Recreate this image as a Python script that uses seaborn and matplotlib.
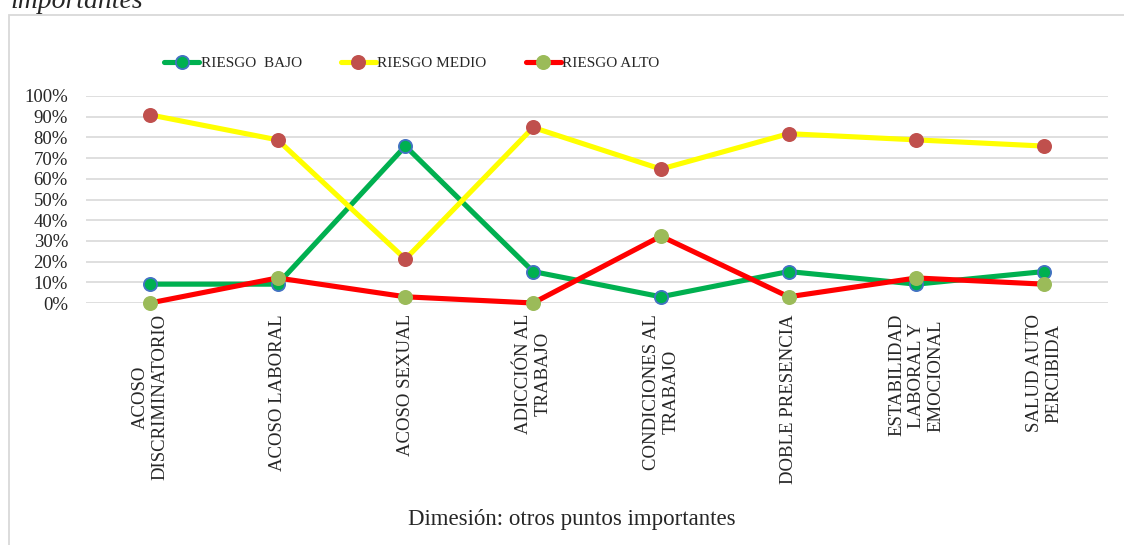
import pandas as pd
import matplotlib
matplotlib.use('Agg')
import matplotlib.pyplot as plt
import matplotlib.patches as mpatches
from matplotlib.ticker import PercentFormatter
import seaborn as sns

# Datos (porcentajes)
categorias = ['ACOSO\nDISCRIMINATORIO', 'ACOSO LABORAL', 'ACOSO SEXUAL',
              'ADICCIÓN AL\nTRABAJO', 'CONDICIONES AL\nTRABAJO', 'DOBLE PRESENCIA',
              'ESTABILIDAD\nLABORAL Y\nEMOCIONAL', 'SALUD AUTO\nPERCIBIDA']
riesgo_bajo = [9.1, 9.1, 75.8, 15.2, 3.0, 15.2, 9.1, 15.2]
riesgo_medio = [90.9, 78.8, 21.2, 84.8, 64.7, 81.8, 78.8, 75.8]
riesgo_alto = [0.0, 12.1, 3.0, 0.0, 32.3, 3.0, 12.1, 9.1]
yticks = [0, 10, 20, 30, 40, 50, 60, 70, 80, 90, 100]

sns.set_style('white')
plt.rcParams['font.family'] = ['Liberation Serif', 'DejaVu Serif']

dados = pd.DataFrame({'dimension': categorias,
                      'bajo': riesgo_bajo,
                      'medio': riesgo_medio,
                      'alto': riesgo_alto})

fig = plt.figure(figsize=(11.24, 5.45), dpi=100)
ax = fig.add_axes([86 / 1124, 1 - 303 / 545, (1108 - 86) / 1124, (303 - 96) / 545])

series = [
    ('bajo', 'RIESGO  BAJO', '#00B050', '#00B050', '#4472C4'),
    ('medio', 'RIESGO MEDIO', '#FFFF00', '#C0504D', '#C0504D'),
    ('alto', 'RIESGO ALTO', '#FF0000', '#9BBB59', '#9BBB59'),
]
for col, nombre, cor_linha, cor_marca, cor_borda in series:
    sns.lineplot(data=dados, x='dimension', y=col, ax=ax, sort=False,
                 color=cor_linha, linewidth=3.7, marker='o', markersize=9.5,
                 markerfacecolor=cor_marca, markeredgecolor=cor_borda,
                 markeredgewidth=1.3, label=nombre, clip_on=False, zorder=3)

ax.set_xlim(-0.5, len(categorias) - 0.5)
ax.set_ylim(0, 100)
ax.set_yticks(yticks)
ax.yaxis.set_major_formatter(PercentFormatter(decimals=0))
ax.grid(axis='y', color='#D9D9D9', linewidth=1.2)
ax.grid(axis='x', visible=False)
for s in ax.spines.values():
    s.set_visible(False)
ax.tick_params(axis='y', length=0, pad=13, labelsize=13.5)
ax.tick_params(axis='x', length=0, pad=8, labelsize=13.5)
ax.set_xticks(range(len(categorias)))
ax.set_xticklabels(categorias, rotation=90, ha='center', va='top',
                   multialignment='center')
ax.set_xlabel('')
ax.set_ylabel('')

ax.get_legend().remove()
handles, labels = ax.get_legend_handles_labels()
fig.legend(handles, labels, loc='center left', bbox_to_anchor=(164 / 1124, 1 - 63 / 545),
           ncol=3, frameon=False, fontsize=11, handlelength=2.3, handletextpad=0.1,
           columnspacing=2.55, borderpad=0, borderaxespad=0)

fig.text(572 / 1124, 1 - 520 / 545, 'Dimesión: otros puntos importantes',
         ha='center', va='center', fontsize=16.5)
fig.text(10 / 1124, 1 - 8 / 545, 'importantes', ha='left', va='baseline',
         fontsize=20, style='italic')

borda = mpatches.Rectangle((8.5 / 1124, -0.1), 1.0, 1.1 - 15 / 545,
                           transform=fig.transFigure, fill=False,
                           edgecolor='#D9D9D9', linewidth=1.3)
fig.patches.append(borda)

plt.savefig('out.png', dpi=100)
plt.close()
